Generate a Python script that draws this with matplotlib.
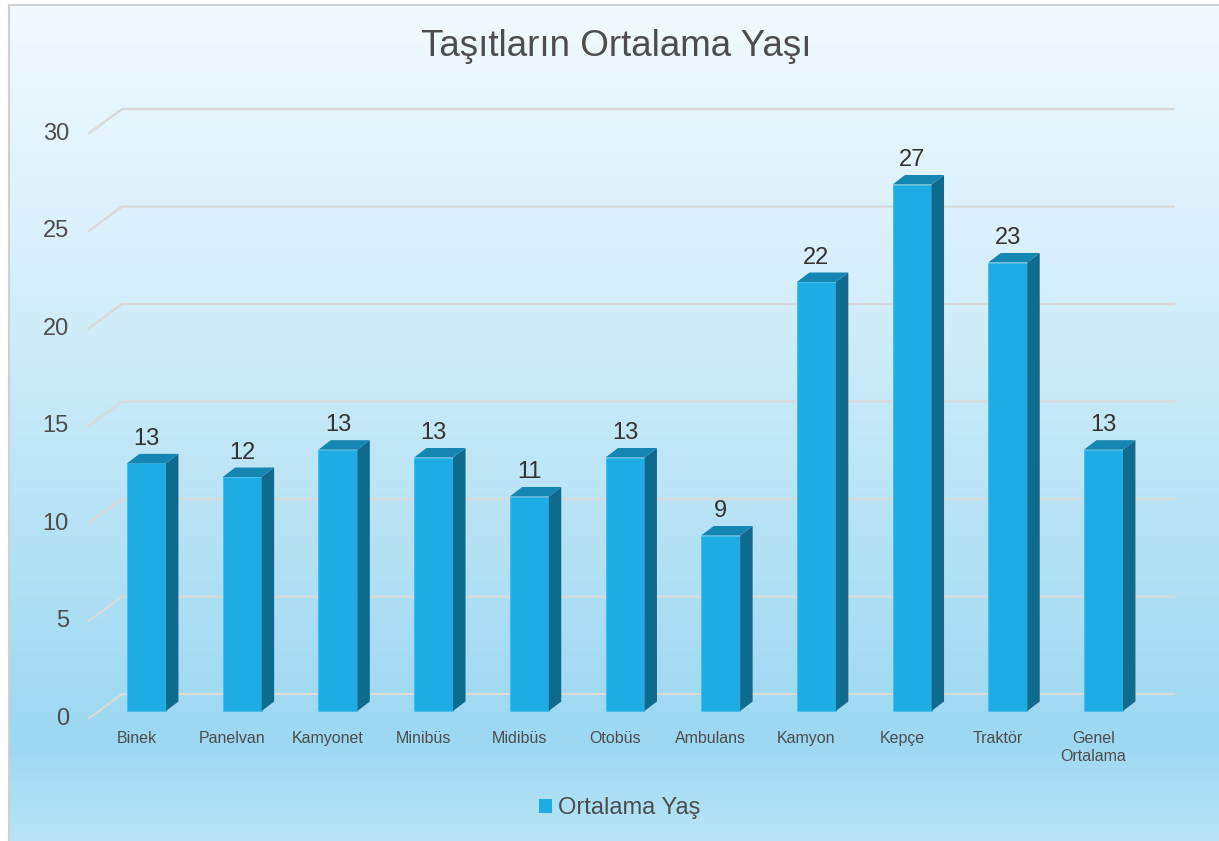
import matplotlib
matplotlib.use('Agg')
import matplotlib.pyplot as plt
import matplotlib.transforms as mtransforms
from matplotlib.patches import Polygon, Patch
from matplotlib.colors import LinearSegmentedColormap
import numpy as np

plt.rcParams['font.family'] = ['Liberation Sans', 'DejaVu Sans']

title = 'Taşıtların Ortalama Yaşı'
series_name = 'Ortalama Yaş'
categories = ['Binek', 'Panelvan', 'Kamyonet', 'Minibüs', 'Midibüs', 'Otobüs',
              'Ambulans', 'Kamyon', 'Kepçe', 'Traktör', 'Genel\nOrtalama']
ages = [12.7, 12.0, 13.4, 13.0, 11.0, 13.0, 9.0, 22.0, 27.0, 23.0, 13.4]
yticks = [0, 5, 10, 15, 20, 25, 30]

W, H = 1219, 841
fig = plt.figure(figsize=(W / 100, H / 100), dpi=100)
fig.patch.set_facecolor('white')

# background with gradient and thin border (left/top)
bg = fig.add_axes([9 / W, 0, 1 - 9 / W, 1 - 5 / H])
cmap = LinearSegmentedColormap.from_list(
    'bg', [(0, '#F2FAFE'), (0.35, '#D3EEFA'), (0.88, '#9CD8F1'), (1, '#B8E4F7')])
bg.imshow(np.linspace(0, 1, 256).reshape(-1, 1), aspect='auto', cmap=cmap,
          extent=[0, 1, 0, 1])
bg.set_xticks([])
bg.set_yticks([])
for s in ['right', 'bottom']:
    bg.spines[s].set_visible(False)
for s in ['left', 'top']:
    bg.spines[s].set_color('#D0D0D0')
    bg.spines[s].set_linewidth(1.5)

# main axes: 95.7 px per category, 19.5 px per unit, zero at 711 px
px_x, px_y = 95.7, 19.5
x0_px, y0_px = 146.5, 711
xlim = (-1, 11)
ylim = (-0.72, 31)
left = x0_px + xlim[0] * px_x
bottom = y0_px - ylim[0] * px_y
top = y0_px - ylim[1] * px_y
ax = fig.add_axes([left / W, (H - bottom) / H, (xlim[1] - xlim[0]) * px_x / W, (bottom - top) / H])
ax.set_xlim(*xlim)
ax.set_ylim(*ylim)
ax.patch.set_alpha(0)
for s in ax.spines.values():
    s.set_visible(False)

# perspective gridlines (side wall + back wall)
for v in yticks:
    ax.plot([-0.611, -0.256, 10.747], [v - 0.41, v + 0.87, v + 0.87],
            color='#D9D9D9', lw=1.6, zorder=1, solid_capstyle='butt')
    ax.text(-0.81, v - 0.41, str(v), ha='right', va='center',
            fontsize=17, color='#4D4D4D')

# 3D-looking bars
x = np.arange(len(categories))
w = 0.4075
dx, dy = 0.13, 0.487
ax.bar(x, ages, width=w, color='#1EACE4', edgecolor='#45BCEA', lw=0.6, zorder=3)
for xi, v in zip(x, ages):
    r = xi + w / 2
    l = xi - w / 2
    ax.add_patch(Polygon([(r, 0), (r + dx, dy), (r + dx, v + dy), (r, v)],
                         closed=True, facecolor='#0F6B8E', edgecolor='none', zorder=3))
    ax.add_patch(Polygon([(l, v), (r, v), (r + dx, v + dy), (l + dx, v + dy)],
                         closed=True, facecolor='#1585B1', edgecolor='none', zorder=3))
    ax.annotate(f'{v:.0f}', (xi, v), xytext=(0, 17.6), textcoords='offset points',
                ha='center', va='center', fontsize=17, color='#333333')

ax.set_yticks([])
ax.set_xticks(x)
ax.set_xticklabels(categories, fontsize=11.5, color='#4D4D4D', linespacing=1.25)
ax.tick_params(axis='x', length=0, pad=4.5)
shift = mtransforms.ScaledTranslation(-10 / 100, 0, fig.dpi_scale_trans)
for lbl in ax.get_xticklabels():
    lbl.set_transform(lbl.get_transform() + shift)

fig.text(616 / W, 1 - 47 / H, title, ha='center', va='center',
         fontsize=26.5, color='#4D4D4D')

fig.legend(handles=[Patch(facecolor='#1EACE4', label=series_name)],
           loc='center', bbox_to_anchor=(619.5 / W, 1 - 808 / H), frameon=False,
           fontsize=17, handlelength=0.55, handleheight=0.55,
           handletextpad=0.25, labelcolor='#4D4D4D')

fig.savefig('out.png', dpi=100)
